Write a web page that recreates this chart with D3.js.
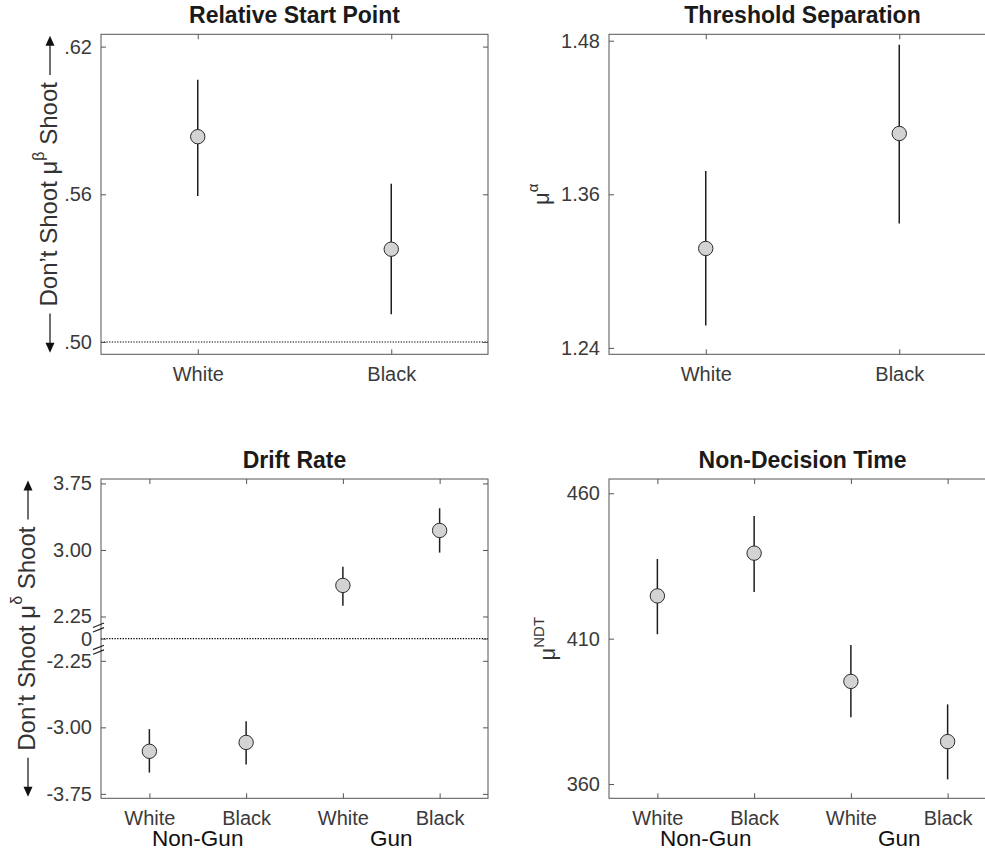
<!DOCTYPE html>
<html>
<head>
<meta charset="utf-8">
<script src="https://cdn.jsdelivr.net/npm/d3@7"></script>
<style>
  body { margin: 0; background: #fff; }
  svg { display: block; }
</style>
</head>
<body>
<svg id="fig" width="985" height="850"></svg>
<script>
// ---- Relative start point (beta) ----
const startCategories = ["White", "Black"];
const startMean = [0.5834, 0.5377];
const startLow = [0.5593, 0.5113];
const startHigh = [0.6065, 0.5643];
const startTicks = [0.50, 0.56, 0.62];
const startTickLabels = [".50", ".56", ".62"];

// ---- Threshold separation (alpha) ----
const threshCategories = ["White", "Black"];
const threshMean = [1.3177, 1.4075];
const threshLow = [1.2575, 1.3371];
const threshHigh = [1.3782, 1.4768];
const threshTicks = [1.24, 1.36, 1.48];
const threshTickLabels = ["1.24", "1.36", "1.48"];

// ---- Drift rate (delta), Non-Gun then Gun ----
const driftCategories = ["White", "Black", "White", "Black"];
const objectGroups = ["Non-Gun", "Gun"];
const driftMean = [-3.27, -3.17, 2.60, 3.22];
const driftLow = [-3.51, -3.42, 2.37, 2.97];
const driftHigh = [-3.02, -2.93, 2.81, 3.47];
const driftTicks = [-3.75, -3.00, -2.25, 0, 2.25, 3.00, 3.75];
const driftTickLabels = ["-3.75", "-3.00", "-2.25", "0", "2.25", "3.00", "3.75"];

// ---- Non-decision time (ms), Non-Gun then Gun ----
const ndtCategories = ["White", "Black", "White", "Black"];
const ndtMean = [424.7, 439.4, 395.3, 374.6];
const ndtLow = [411.5, 426.0, 383.0, 361.6];
const ndtHigh = [437.4, 452.2, 407.8, 387.4];
const ndtTicks = [360, 410, 460];
const ndtTickLabels = ["360", "410", "460"];

const FONT = "'Liberation Sans', Arial, Helvetica, sans-serif";
const AXIS_COLOR = "#555";
const TICK_TEXT = "#3a3a3a";
const svg = d3.select("#fig");

// Broken drift axis: the gap between -2.25 and 2.25 is squeezed around zero
const driftGap = 2.0;
const squeeze = v => v > 0 ? v - driftGap : (v < 0 ? v + driftGap : 0);

function drawPanel(cfg) {
  const { left, right, top, bottom } = cfg;
  const map = cfg.map || (v => v);
  const n = cfg.cats.length;
  const x = d3.scaleLinear().domain([0.5, n + 0.5]).range([left, right]);
  const y = d3.scaleLinear().domain(cfg.yDomain).range([bottom, top]);
  const g = svg.append("g");

  // reference line
  if (cfg.refLine !== undefined) {
    const yr = y(map(cfg.refLine));
    g.append("line")
      .attr("x1", left).attr("x2", right).attr("y1", yr).attr("y2", yr)
      .attr("stroke", "#000").attr("stroke-width", 1.2)
      .attr("stroke-dasharray", "1.3,1.4");
  }

  const tickVals = cfg.ticks.map(map);
  const styleAxis = sel => {
    sel.select(".domain").remove();
    sel.selectAll(".tick line").attr("stroke", AXIS_COLOR).attr("stroke-width", 1);
    sel.selectAll(".tick text").attr("fill", TICK_TEXT)
      .style("font-family", FONT).style("font-size", "20px");
  };

  g.append("g").attr("transform", `translate(${left},0)`)
    .call(d3.axisLeft(y).tickValues(tickVals)
      .tickFormat((d, i) => cfg.tickLabels[i]).tickSize(-5).tickPadding(9))
    .call(styleAxis);
  g.append("g").attr("transform", `translate(${right},0)`)
    .call(d3.axisRight(y).tickValues(tickVals).tickFormat("").tickSize(-5))
    .call(styleAxis);
  g.append("g").attr("transform", `translate(0,${bottom})`)
    .call(d3.axisBottom(x).tickValues(d3.range(1, n + 1))
      .tickFormat((d, i) => cfg.cats[i]).tickSize(-5).tickPadding(cfg.xPad))
    .call(styleAxis);
  g.append("g").attr("transform", `translate(0,${top})`)
    .call(d3.axisTop(x).tickValues(d3.range(1, n + 1)).tickFormat("").tickSize(-5))
    .call(styleAxis);

  // box
  g.append("rect")
    .attr("x", left).attr("y", top)
    .attr("width", right - left).attr("height", bottom - top)
    .attr("fill", "none").attr("stroke", AXIS_COLOR).attr("stroke-width", 1);

  // axis break marks
  if (cfg.breaks) {
    cfg.breaks.forEach(b => {
      const yb = y(b);
      [-2.3, 2.3].forEach(off => {
        g.append("line")
          .attr("x1", left - 8).attr("y1", yb + off + 2.2)
          .attr("x2", left + 3).attr("y2", yb + off - 2.2)
          .attr("stroke", "#222").attr("stroke-width", 1.2);
      });
    });
  }

  // group labels under the category labels
  if (cfg.groups) {
    cfg.groups.forEach((name, k) => {
      g.append("text")
        .attr("x", x(2 * k + 1.5)).attr("y", bottom + 48)
        .attr("text-anchor", "middle")
        .style("font-family", FONT).style("font-size", "22.5px")
        .attr("fill", "#111").text(name);
    });
  }

  // error bars and points
  const idx = d3.range(n);
  g.selectAll("line.err").data(idx).join("line").attr("class", "err")
    .attr("x1", i => x(i + 1)).attr("x2", i => x(i + 1))
    .attr("y1", i => y(map(cfg.low[i]))).attr("y2", i => y(map(cfg.high[i])))
    .attr("stroke", "#1e1e1e").attr("stroke-width", 1.5);
  g.selectAll("circle.pt").data(idx).join("circle").attr("class", "pt")
    .attr("cx", i => x(i + 1)).attr("cy", i => y(map(cfg.mean[i])))
    .attr("r", 7.2)
    .attr("fill", "#d3d3d3").attr("stroke", "#2a2a2a").attr("stroke-width", 1);

  // title
  g.append("text")
    .attr("x", (left + right) / 2).attr("y", top - 11)
    .attr("text-anchor", "middle")
    .style("font-family", FONT).style("font-size", "23px").style("font-weight", "bold")
    .attr("fill", "#1a1a1a").text(cfg.title);

  // y label: text, then a superscript symbol, then text
  const cy = (top + bottom) / 2;
  const lab = g.append("text")
    .attr("transform", `translate(${cfg.labelX},${cy}) rotate(-90)`)
    .attr("text-anchor", "middle")
    .style("font-family", FONT).style("font-size", cfg.labelSize + "px")
    .attr("fill", "#333");
  lab.append("tspan").text(cfg.labelPre + "\u03bc");
  lab.append("tspan").attr("dy", -cfg.supRaise).style("font-size", cfg.supSize + "px").text(cfg.labelSup);
  if (cfg.labelPost) {
    lab.append("tspan").attr("dy", cfg.supRaise).text(cfg.labelPost);
  }

  // direction arrows along the y label
  if (cfg.arrows) {
    const len = lab.node().getComputedTextLength();
    const ax = cfg.labelX - 7;
    const gap = 7;
    const upStart = cy - len / 2 - gap, upTip = top + 1.5;
    const dnStart = cy + len / 2 + gap, dnTip = bottom - 1.5;
    const head = 10, half = 4.5;
    g.append("line").attr("x1", ax).attr("x2", ax).attr("y1", upStart).attr("y2", upTip + head - 1)
      .attr("stroke", "#222").attr("stroke-width", 1.3);
    g.append("path").attr("d", `M${ax},${upTip}L${ax - half},${upTip + head}L${ax + half},${upTip + head}Z`)
      .attr("fill", "#111");
    g.append("line").attr("x1", ax).attr("x2", ax).attr("y1", dnStart).attr("y2", dnTip - head + 1)
      .attr("stroke", "#222").attr("stroke-width", 1.3);
    g.append("path").attr("d", `M${ax},${dnTip}L${ax - half},${dnTip - head}L${ax + half},${dnTip - head}Z`)
      .attr("fill", "#111");
  }
}

drawPanel({
  left: 101, right: 488, top: 34.3, bottom: 354.3,
  yDomain: [0.495, 0.625], cats: startCategories,
  mean: startMean, low: startLow, high: startHigh,
  ticks: startTicks, tickLabels: startTickLabels, refLine: 0.5, xPad: 12.5,
  title: "Relative Start Point",
  labelX: 57, labelSize: 24, supSize: 16, supRaise: 13,
  labelPre: "Don\u2019t Shoot  ", labelSup: "\u03b2", labelPost: " Shoot", arrows: true
});

drawPanel({
  left: 609, right: 996, top: 34.3, bottom: 354.3,
  yDomain: [1.235, 1.485], cats: threshCategories,
  mean: threshMean, low: threshLow, high: threshHigh,
  ticks: threshTicks, tickLabels: threshTickLabels, xPad: 12.5,
  title: "Threshold Separation",
  labelX: 549, labelSize: 22, supSize: 15, supRaise: 11,
  labelPre: "", labelSup: "\u03b1"
});

drawPanel({
  left: 101, right: 488, top: 479, bottom: 798.3,
  yDomain: [-1.8, 1.8], map: squeeze, cats: driftCategories, groups: objectGroups,
  mean: driftMean, low: driftLow, high: driftHigh,
  ticks: driftTicks, tickLabels: driftTickLabels, refLine: 0, xPad: 12.5,
  breaks: [0.125, -0.125],
  title: "Drift Rate",
  labelX: 35, labelSize: 24, supSize: 16, supRaise: 13,
  labelPre: "Don\u2019t Shoot  ", labelSup: "\u03b4", labelPost: " Shoot", arrows: true
});

drawPanel({
  left: 609, right: 996, top: 479, bottom: 798.3,
  yDomain: [355.1, 464.9], cats: ndtCategories, groups: objectGroups,
  mean: ndtMean, low: ndtLow, high: ndtHigh,
  ticks: ndtTicks, tickLabels: ndtTickLabels, xPad: 12.5,
  title: "Non-Decision Time",
  labelX: 555, labelSize: 22, supSize: 15, supRaise: 11,
  labelPre: "", labelSup: "NDT"
});
</script>
</body>
</html>
